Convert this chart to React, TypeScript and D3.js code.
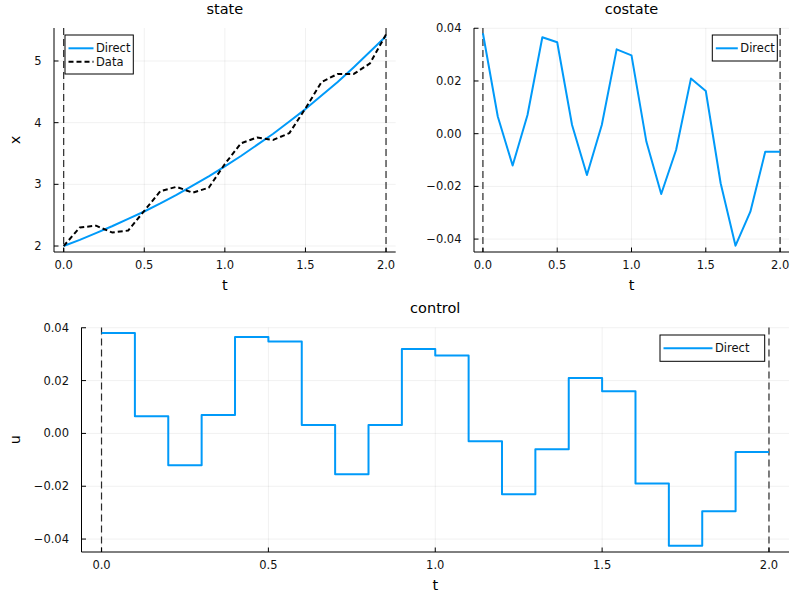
import * as d3 from 'd3';

const tGrid = [0, 0.1, 0.2, 0.3, 0.4, 0.5, 0.6, 0.7, 0.8, 0.9, 1.0, 1.1, 1.2, 1.3, 1.4, 1.5, 1.6, 1.7, 1.8, 1.9, 2.0];

const stateDirect = [2.0, 2.1, 2.21, 2.32, 2.44, 2.56, 2.69, 2.83, 2.98, 3.13, 3.29, 3.46, 3.64, 3.82, 4.02, 4.22, 4.44, 4.66, 4.9, 5.15, 5.4];
const stateData = [2.0, 2.3, 2.33, 2.22, 2.25, 2.57, 2.89, 2.96, 2.865, 2.945, 3.33, 3.665, 3.76, 3.72, 3.83, 4.23, 4.66, 4.79, 4.79, 4.96, 5.43];

const costateDirect = [0.0381, 0.0065, -0.0121, 0.0071, 0.0366, 0.0347, 0.0033, -0.0157, 0.0033, 0.032, 0.0297, -0.003, -0.0229, -0.0062, 0.0209, 0.0162, -0.0188, -0.0425, -0.0296, -0.0069, -0.0069];

const controlDirect = [0.038, 0.0065, -0.0121, 0.007, 0.0365, 0.0348, 0.0032, -0.0155, 0.0032, 0.032, 0.0295, -0.003, -0.023, -0.006, 0.021, 0.016, -0.019, -0.0425, -0.0295, -0.007, -0.007];

const tTicks = [0, 0.5, 1.0, 1.5, 2.0];
const stateTicks = [2, 3, 4, 5];
const smallTicks = [-0.04, -0.02, 0, 0.02, 0.04];
const boundaryTimes = [0, 2];

const BLUE = '#009af9';
const FONT = 'DejaVu Sans, sans-serif';

type Series = {
  name: string;
  values: number[];
  color: string;
  dash?: string;
  step?: boolean;
};

type PanelProps = {
  title: string;
  ylabel?: string;
  left: number;
  right: number;
  top: number;
  bottom: number;
  yDomain: [number, number];
  yTicks: number[];
  yFormat: (v: number) => string;
  series: Series[];
  legend: { x: number; y: number; w: number; h: number; lineLen: number };
};

function Panel(p: PanelProps) {
  const x = d3.scaleLinear().domain([-0.06, 2.06]).range([p.left, p.right]);
  const y = d3.scaleLinear().domain(p.yDomain).range([p.bottom, p.top]);
  const xFmt = d3.format('.1f');
  const cx = (p.left + p.right) / 2;

  return (
    <g fontFamily={FONT}>
      <text x={cx} y={p.top - 19.5} textAnchor="middle" dominantBaseline="central" fontSize={14.5}>
        {p.title}
      </text>

      {/* grid */}
      {tTicks.map((t) => (
        <line key={'gx' + t} x1={x(t)} x2={x(t)} y1={p.top} y2={p.bottom} stroke="#000" strokeOpacity={0.1} strokeWidth={0.6} />
      ))}
      {p.yTicks.map((v) => (
        <line key={'gy' + v} x1={p.left} x2={p.right} y1={y(v)} y2={y(v)} stroke="#000" strokeOpacity={0.1} strokeWidth={0.6} />
      ))}

      {/* boundary markers */}
      {boundaryTimes.map((t) => (
        <line key={'vb' + t} x1={x(t)} x2={x(t)} y1={p.top} y2={p.bottom} stroke="#2a2a2a" strokeWidth={1.2} strokeDasharray="7,4" />
      ))}

      {p.series.map((s) => {
        const line = d3
          .line<number>()
          .x((_, i) => x(tGrid[i]))
          .y((d) => y(d))
          .curve(s.step ? d3.curveStepAfter : d3.curveLinear);
        return (
          <path key={s.name} d={line(s.values) ?? ''} fill="none" stroke={s.color} strokeWidth={2} strokeDasharray={s.dash} strokeLinejoin="round" />
        );
      })}

      {/* axes */}
      <line x1={p.left} x2={p.left} y1={p.top} y2={p.bottom} stroke="#000" strokeWidth={1} />
      <line x1={p.left} x2={p.right} y1={p.bottom} y2={p.bottom} stroke="#000" strokeWidth={1} />
      {tTicks.map((t) => (
        <g key={'tx' + t}>
          <line x1={x(t)} x2={x(t)} y1={p.bottom} y2={p.bottom - 4.5} stroke="#000" />
          <text x={x(t)} y={p.bottom + 13} textAnchor="middle" dominantBaseline="central" fontSize={11.5} fill="#111">
            {xFmt(t)}
          </text>
        </g>
      ))}
      {p.yTicks.map((v) => (
        <g key={'ty' + v}>
          <line x1={p.left} x2={p.left + 4.5} y1={y(v)} y2={y(v)} stroke="#000" />
          <text x={p.left - 12.5} y={y(v)} textAnchor="end" dominantBaseline="central" fontSize={11.5} fill="#111">
            {p.yFormat(v)}
          </text>
        </g>
      ))}

      <text x={cx} y={p.bottom + 33} textAnchor="middle" dominantBaseline="central" fontSize={14.5}>
        t
      </text>
      {p.ylabel && (
        <text transform={`translate(15,${(p.top + p.bottom) / 2}) rotate(-90)`} textAnchor="middle" dominantBaseline="central" fontSize={14.5}>
          {p.ylabel}
        </text>
      )}

      {/* legend */}
      <rect x={p.legend.x} y={p.legend.y} width={p.legend.w} height={p.legend.h} fill="#fff" stroke="#000" strokeWidth={1} />
      {p.series.map((s, i) => {
        const ly = p.legend.y + 13.3 + i * 13.4;
        return (
          <g key={'lg' + s.name}>
            <line x1={p.legend.x + 3.5} x2={p.legend.x + 3.5 + p.legend.lineLen} y1={ly} y2={ly} stroke={s.color} strokeWidth={2} strokeDasharray={s.dash} />
            <text x={p.legend.x + 6 + p.legend.lineLen} y={ly} dominantBaseline="central" fontSize={11.5} fill="#111">
              {s.name}
            </text>
          </g>
        );
      })}
    </g>
  );
}

export default function App() {
  const fmtInt = d3.format('d');
  const fmt2 = d3.format('.2f');
  return (
    <div style={{ position: 'absolute', left: 0, top: 0 }}>
      <svg width={800} height={600} style={{ display: 'block', background: '#fff' }}>
        <Panel
          title="state"
          ylabel="x"
          left={54}
          right={395.7}
          top={28}
          bottom={252}
          yDomain={[1.903, 5.535]}
          yTicks={stateTicks}
          yFormat={fmtInt}
          series={[
            { name: 'Direct', values: stateDirect, color: BLUE },
            { name: 'Data', values: stateData, color: '#000', dash: '5,3' },
          ]}
          legend={{ x: 65, y: 35, w: 68.3, h: 39, lineLen: 25 }}
        />
        <Panel
          title="costate"
          left={474}
          right={789}
          top={28}
          bottom={252}
          yDomain={[-0.0449, 0.0401]}
          yTicks={smallTicks}
          yFormat={fmt2}
          series={[{ name: 'Direct', values: costateDirect, color: BLUE }]}
          legend={{ x: 712.3, y: 35, w: 65, h: 26, lineLen: 22 }}
        />
        <Panel
          title="control"
          ylabel="u"
          left={81.5}
          right={789}
          top={327.5}
          bottom={552}
          yDomain={[-0.0449, 0.0401]}
          yTicks={smallTicks}
          yFormat={fmt2}
          series={[{ name: 'Direct', values: controlDirect, color: BLUE, step: true }]}
          legend={{ x: 660, y: 335, w: 104.7, h: 26.3, lineLen: 49 }}
        />
      </svg>
    </div>
  );
}
